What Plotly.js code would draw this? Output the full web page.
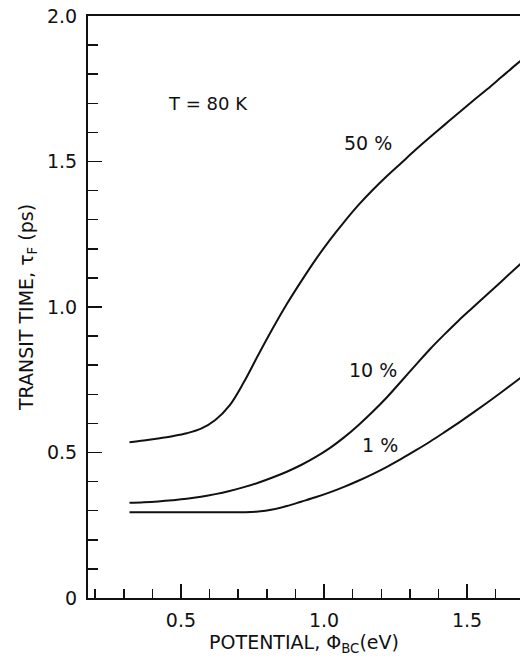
<!DOCTYPE html>
<html>
<head>
<meta charset="utf-8">
<script src="https://cdn.plot.ly/plotly-3.0.1.min.js"></script>
<style>
html,body{margin:0;padding:0;background:#fff;}
#chart{width:520px;height:664px;}
</style>
</head>
<body>
<div id="chart"></div>
<script>
// Data (potential in eV, transit time in ps)
const xPot = [0.32, 0.37, 0.42, 0.47, 0.52, 0.57, 0.62, 0.67, 0.72, 0.77, 0.82, 0.87, 0.92, 0.97, 1.02,
              1.07, 1.12, 1.17, 1.22, 1.27, 1.32, 1.37, 1.42, 1.47, 1.52, 1.57, 1.62, 1.67, 1.72];

const y50 = [0.535, 0.541, 0.548, 0.556, 0.566, 0.582, 0.612, 0.662, 0.742, 0.835, 0.925, 1.010, 1.088, 1.162, 1.230,
             1.292, 1.350, 1.402, 1.450, 1.495, 1.540, 1.583, 1.625, 1.667, 1.708, 1.748, 1.790, 1.832, 1.872];

const y10 = [0.327, 0.329, 0.332, 0.336, 0.341, 0.348, 0.357, 0.368, 0.381, 0.396, 0.414, 0.434, 0.457, 0.484, 0.515,
             0.552, 0.594, 0.640, 0.690, 0.745, 0.800, 0.855, 0.905, 0.953, 0.998, 1.043, 1.088, 1.133, 1.178];

const y1 = [0.295, 0.295, 0.295, 0.295, 0.295, 0.295, 0.295, 0.295, 0.295, 0.297, 0.304, 0.316, 0.331, 0.346, 0.363,
            0.382, 0.403, 0.426, 0.451, 0.478, 0.507, 0.537, 0.569, 0.602, 0.636, 0.671, 0.707, 0.744, 0.781];

const yTickVals = [0, 0.5, 1.0, 1.5, 2.0];
const yTickText = ['0', '0.5', '1.0', '1.5', '2.0'];
const xTickVals = [0.5, 1.0, 1.5];
const xTickText = ['0.5', '1.0', '1.5'];

const curveLabels = ['50 %', '10 %', '1 %'];
const tempLabel = 'T = 80 K';

const FONT = 'DejaVu Sans, Verdana, sans-serif';
const INK = '#111';

const lineStyle = {color: INK, width: 2, shape: 'spline', smoothing: 1};
const traces = [
  {x: xPot, y: y50, mode: 'lines', line: lineStyle, name: curveLabels[0], hoverinfo: 'skip'},
  {x: xPot, y: y10, mode: 'lines', line: lineStyle, name: curveLabels[1], hoverinfo: 'skip'},
  {x: xPot, y: y1, mode: 'lines', line: lineStyle, name: curveLabels[2], hoverinfo: 'skip'}
];

const layout = {
  width: 520, height: 664,
  margin: {l: 88, r: 0, t: 16, b: 66},
  paper_bgcolor: '#fff', plot_bgcolor: '#fff',
  showlegend: false,
  font: {family: FONT, color: INK, size: 19},
  xaxis: {
    range: [0.175, 1.685],
    showgrid: false, zeroline: false,
    showline: true, linecolor: INK, linewidth: 2, mirror: true,
    ticks: 'inside', ticklen: 14, tickwidth: 1.5, tickcolor: INK,
    tickvals: xTickVals, ticktext: xTickText,
    minor: {ticks: 'inside', ticklen: 9, tickwidth: 1.5, tickcolor: INK, dtick: 0.1, tick0: 0},
    tickfont: {family: FONT, size: 19, color: INK},
    ticklabelstandoff: 4,
    title: {text: 'POTENTIAL, \u03A6<sub>BC</sub>(eV)', font: {family: FONT, size: 19, color: INK}, standoff: 6}
  },
  yaxis: {
    range: [0, 2.0],
    showgrid: false, zeroline: false,
    showline: true, linecolor: INK, linewidth: 2,
    ticks: 'inside', ticklen: 14, tickwidth: 1.5, tickcolor: INK,
    tickvals: yTickVals, ticktext: yTickText,
    minor: {ticks: 'inside', ticklen: 10, tickwidth: 1.5, tickcolor: INK, dtick: 0.1, tick0: 0},
    tickfont: {family: FONT, size: 19, color: INK},
    ticklabelstandoff: 5,
    title: {text: 'TRANSIT TIME, \u03C4<sub>F</sub> (ps)', font: {family: FONT, size: 19, color: INK}, standoff: 8}
  },
  annotations: [
    {x: 1.154, y: 1.564, text: curveLabels[0], showarrow: false, font: {family: FONT, size: 19, color: INK}},
    {x: 1.171, y: 0.784, text: curveLabels[1], showarrow: false, font: {family: FONT, size: 19, color: INK}},
    {x: 1.196, y: 0.526, text: curveLabels[2], showarrow: false, font: {family: FONT, size: 19, color: INK}},
    {x: 0.594, y: 1.70, text: tempLabel, showarrow: false, font: {family: FONT, size: 18, color: INK}}
  ]
};

Plotly.newPlot('chart', traces, layout, {staticPlot: true, displayModeBar: false});
</script>
</body>
</html>
